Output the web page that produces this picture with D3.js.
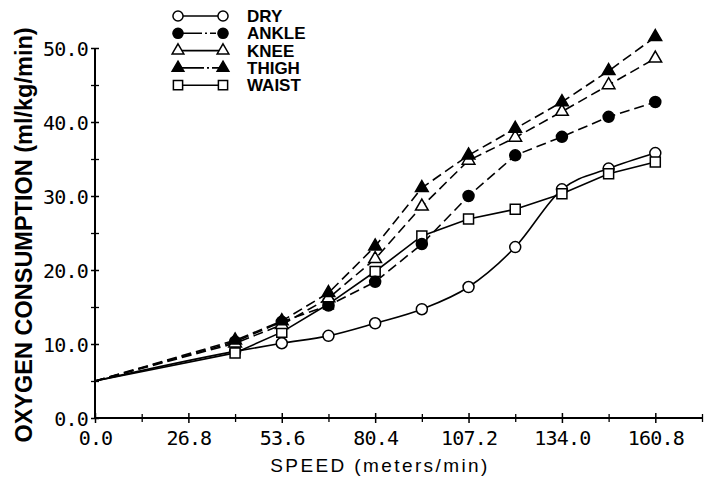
<!DOCTYPE html>
<html>
<head>
<meta charset="utf-8">
<script src="https://cdn.jsdelivr.net/npm/d3@7"></script>
<style>
  html, body { margin: 0; padding: 0; background: #fff; }
  #chart { width: 706px; height: 477px; }
</style>
</head>
<body>
<div id="chart"></div>
<script>
// speeds where oxygen was measured (meters/min)
const speeds = [40.2, 53.6, 67.0, 80.4, 93.8, 107.2, 120.6, 134.0, 147.4, 160.8];
// every curve starts from the resting value on the y axis
const startSpeed = 0;
const startValue = 5.0;
const dry   = [9.0, 10.1, 11.1, 12.8, 14.7, 17.7, 23.1, 30.9, 33.7, 35.8];
const waist = [8.8, 11.6, 15.4, 19.8, 24.6, 26.9, 28.2, 30.3, 33.0, 34.6];
const ankle = [10.3, 13.0, 15.2, 18.4, 23.5, 30.0, 35.5, 38.0, 40.7, 42.7];
const knee  = [10.1, 12.6, 16.2, 21.5, 28.6, 34.8, 37.9, 41.4, 45.0, 48.6];
const thigh = [10.5, 13.1, 16.9, 23.2, 31.1, 35.5, 39.1, 42.7, 46.9, 51.5];
const seriesNames = ['DRY', 'ANKLE', 'KNEE', 'THIGH', 'WAIST'];
const xMajorTicks = [0.0, 26.8, 53.6, 80.4, 107.2, 134.0, 160.8];
const xMinorTicks = [13.4, 40.2, 67.0, 93.8, 120.6, 147.4, 174.2];
const yMajorTicks = [0, 10, 20, 30, 40, 50];
const yMinorTicks = [5, 15, 25, 35, 45];

const chart = {};

chart.create = function(target){
  this.width_svg = 706;
  this.height_svg = 477;
  this.margin = {top: 48, right: 2, bottom: 59, left: 95};
  this.style = {
    'DRY':   {symbol: d3.symbolCircle,   fill: '#fff', dash: null,   legendDash: null},
    'ANKLE': {symbol: d3.symbolCircle,   fill: '#000', dash: '10,5', legendDash: '24,3,2,3,6,3'},
    'KNEE':  {symbol: d3.symbolTriangle, fill: '#fff', dash: '10,5', legendDash: null},
    'THIGH': {symbol: d3.symbolTriangle, fill: '#000', dash: '10,5', legendDash: '26,3,2,3,8,3'},
    'WAIST': {symbol: d3.symbolSquare,   fill: '#fff', dash: null,   legendDash: null}
  };
  this.svg = d3.select('#' + target)
               .append('svg')
               .attr('width', this.width_svg)
               .attr('height', this.height_svg);
  this.draw();
}

chart.draw = function(){
  let svg = this.svg,
      margin = this.margin,
      style = this.style;
  let values = {'DRY': dry, 'ANKLE': ankle, 'KNEE': knee, 'THIGH': thigh, 'WAIST': waist};
  let data = seriesNames.map(name => ({
    name: name,
    points: [[startSpeed, startValue]].concat(speeds.map((s, i) => [s, values[name][i]]))
  }));

  let xScale = d3.scaleLinear().domain([0, 174.2]).range([margin.left, this.width_svg - margin.right - 2]);
  let yScale = d3.scaleLinear().domain([0, 50]).range([this.height_svg - margin.bottom, margin.top]);
  let y0 = yScale(0);
  let tickFont = 'DejaVu Sans Mono, monospace';

  // x axis
  let xAxis = svg.append('g')
                 .attr('transform', `translate(0, ${y0})`)
                 .call(d3.axisBottom(xScale).tickValues(xMajorTicks).tickSize(5).tickFormat(d3.format('.1f')));
  xAxis.select('.domain').attr('d', `M${xScale(0)},0H${xScale(174.2)}`).attr('stroke-width', 2);
  xAxis.selectAll('.tick line').attr('y1', -5).attr('y2', 5).attr('stroke-width', 1.5);
  xAxis.selectAll('.tick text')
       .attr('y', 27).attr('dy', 0)
       .attr('font-family', tickFont)
       .attr('font-size', 20).attr('letter-spacing', -0.8)
       .attr('fill', '#000');
  let xMinor = svg.append('g')
                  .attr('transform', `translate(0, ${y0})`)
                  .call(d3.axisBottom(xScale).tickValues(xMinorTicks).tickSize(4).tickFormat(''));
  xMinor.select('.domain').remove();
  xMinor.selectAll('.tick line').attr('y1', -4).attr('y2', 4).attr('stroke-width', 1.3);

  // y axis
  let yAxis = svg.append('g')
                 .attr('transform', `translate(${margin.left}, 0)`)
                 .call(d3.axisLeft(yScale).tickValues(yMajorTicks).tickSize(4).tickFormat(d3.format('.1f')));
  yAxis.select('.domain').attr('d', `M0,${yScale(0)}V${yScale(50)}`).attr('stroke-width', 2);
  yAxis.selectAll('.tick line').attr('x1', -4).attr('x2', 4).attr('stroke-width', 1.5);
  yAxis.selectAll('.tick text')
       .attr('x', -7).attr('dy', '0.36em')
       .attr('font-family', tickFont)
       .attr('font-size', 20).attr('letter-spacing', -0.8)
       .attr('fill', '#000');
  let yMinor = svg.append('g')
                  .attr('transform', `translate(${margin.left}, 0)`)
                  .call(d3.axisLeft(yScale).tickValues(yMinorTicks).tickSize(4).tickFormat(''));
  yMinor.select('.domain').remove();
  yMinor.selectAll('.tick line').attr('x1', -4).attr('x2', 4).attr('stroke-width', 1.3);

  // axis titles
  svg.append('text')
     .attr('x', 380).attr('y', 472)
     .attr('text-anchor', 'middle')
     .attr('font-family', 'Liberation Sans, Arial, sans-serif')
     .attr('font-size', 19).attr('letter-spacing', 2.4)
     .text('SPEED (meters/min)');
  svg.append('text')
     .attr('transform', 'translate(32, 235) rotate(-90)')
     .attr('text-anchor', 'middle')
     .attr('font-family', 'Liberation Sans, Arial, sans-serif')
     .attr('font-weight', 'bold')
     .attr('font-size', 23.5)
     .text('OXYGEN CONSUMPTION (ml/kg/min)');

  // lines
  let line = d3.line()
               .x(d => xScale(d[0]))
               .y(d => yScale(d[1]));
  svg.append('g')
     .attr('fill', 'none')
     .attr('stroke', '#000')
     .attr('stroke-width', 1.6)
     .selectAll('path')
     .data(data)
     .enter().append('path')
             .attr('stroke-dasharray', d => style[d.name].dash)
             .attr('d', d => line.curve(d.name === 'DRY' ? d3.curveMonotoneX : d3.curveLinear)(d.points));

  // markers (drawn in this order so the later ones sit on top)
  let order = ['DRY', 'WAIST', 'ANKLE', 'KNEE', 'THIGH'];
  let symbolSize = {circle: 95, square: 100, triangle: 70};
  let sizeOf = name => style[name].symbol === d3.symbolCircle ? symbolSize.circle
                     : style[name].symbol === d3.symbolSquare ? symbolSize.square : symbolSize.triangle;
  order.forEach(name => {
    let s = data.find(d => d.name === name);
    svg.append('g')
       .selectAll('path')
       .data(s.points.slice(1))
       .enter().append('path')
               .attr('transform', d => `translate(${xScale(d[0])}, ${yScale(d[1])})`)
               .attr('d', d3.symbol().type(style[name].symbol).size(sizeOf(name)))
               .attr('fill', style[name].fill)
               .attr('stroke', '#000')
               .attr('stroke-width', 1.5);
  });

  // legend
  let legend = svg.append('g').attr('transform', 'translate(178, 16)');
  let rows = legend.selectAll('g')
                   .data(seriesNames)
                   .enter().append('g')
                           .attr('transform', (d, i) => `translate(0, ${i * 17.3})`);
  rows.append('line')
      .attr('x1', 0).attr('x2', 45)
      .attr('stroke', '#000').attr('stroke-width', 1.6)
      .attr('stroke-dasharray', d => style[d].legendDash);
  [0, 45].forEach(px => {
    rows.append('path')
        .attr('transform', `translate(${px}, 0)`)
        .attr('d', d => d3.symbol().type(style[d].symbol).size(sizeOf(d) * 0.85)())
        .attr('fill', d => style[d].fill)
        .attr('stroke', '#000')
        .attr('stroke-width', 1.5);
  });
  rows.append('text')
      .attr('x', 69).attr('dy', '0.36em')
      .attr('font-family', 'Liberation Sans, Arial, sans-serif')
      .attr('font-weight', 'bold')
      .attr('font-size', 17)
      .text(d => d);
}

chart.create('chart');
</script>
</body>
</html>
